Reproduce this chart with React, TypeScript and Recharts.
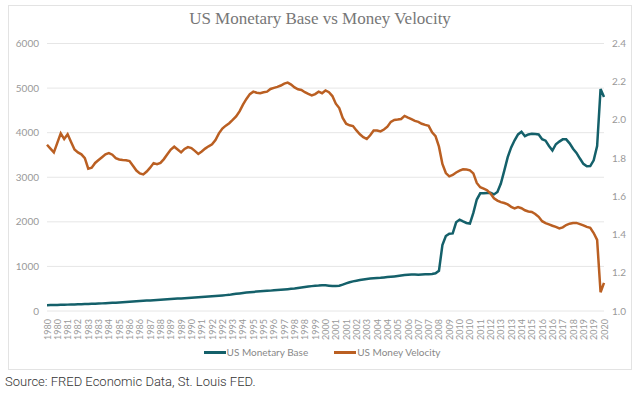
import React from 'react';
import { LineChart, Line, XAxis, YAxis, CartesianGrid, Legend } from 'recharts';

const years = [
  1980, 1981, 1982, 1983, 1984, 1985, 1986, 1987, 1988, 1989,
  1990, 1991, 1992, 1993, 1994, 1995, 1996, 1997, 1998, 1999,
  2000, 2001, 2002, 2003, 2004, 2005, 2006, 2007, 2008, 2009,
  2010, 2011, 2012, 2013, 2014, 2015, 2016, 2017, 2018, 2019, 2020,
];
const quarterNames = ['Q1', 'Q2', 'Q3', 'Q4'];
const quarters = years.flatMap((y) => quarterNames.map((q) => `${y} ${q}`)).slice(0, 163);

// US Monetary Base (billions USD), quarterly, left axis
const monetaryBase = [
  130, 132, 134, 136, 138, 140, 143, 145, 147, 150, 152, 155, 158, 161, 164, 167, 171, 175, 179, 183, 187, 191, 196, 201, 206, 212,
  218, 223, 228, 233, 238, 243, 248, 253, 258, 263, 268, 273, 278, 283, 288, 293, 298, 303, 309, 315, 320, 326, 332, 338, 344, 350, 356, 362,
  375, 385, 395, 405, 413, 420, 428, 436, 443, 448, 452, 457, 463, 470, 476, 483, 490, 498, 507, 518, 528, 538, 548, 558, 566, 572, 580,
  575, 568, 562, 560, 565, 590, 620, 645, 665, 680, 695, 708, 720, 728, 733, 738, 744, 752, 760, 768, 776, 785, 795, 805, 812, 818, 818, 815, 818, 822, 826, 830, 845,
  900, 1480, 1680, 1735, 1740, 1990, 2050, 2010, 1975, 1962, 2200, 2500, 2640, 2640, 2648, 2650, 2615, 2670, 2860, 3150, 3450, 3670, 3830, 3960, 4020, 3920, 3960, 3975, 3970, 3960, 3855, 3820, 3700, 3600, 3740, 3800, 3850, 3850, 3760, 3640, 3547, 3420, 3300, 3245, 3250, 3380, 3700, 4980, 4800,
];

// US Money Velocity (M2V), quarterly, right axis
const moneyVelocity = [
  1.87, 1.85, 1.83, 1.88, 1.93, 1.9, 1.925, 1.885, 1.845, 1.83,
  1.82, 1.8, 1.745, 1.75, 1.775, 1.79, 1.805, 1.82, 1.826, 1.818,
  1.8, 1.793, 1.79, 1.789, 1.785, 1.76, 1.735, 1.72, 1.715, 1.73,
  1.75, 1.774, 1.768, 1.775, 1.795, 1.82, 1.845, 1.86, 1.845, 1.83,
  1.848, 1.858, 1.853, 1.838, 1.822, 1.835, 1.85, 1.862, 1.872, 1.895,
  1.93, 1.955, 1.97, 1.983, 2.0, 2.018, 2.045, 2.08, 2.11, 2.135,
  2.148, 2.142, 2.14, 2.145, 2.148, 2.162, 2.168, 2.173, 2.18, 2.19,
  2.195, 2.185, 2.17, 2.16, 2.157, 2.145, 2.136, 2.128, 2.135, 2.148,
  2.14, 2.154, 2.145, 2.125, 2.085, 2.062, 2.01, 1.98, 1.972, 1.968,
  1.945, 1.925, 1.91, 1.9, 1.92, 1.945, 1.945, 1.94, 1.95, 1.965,
  1.99, 2.0, 2.002, 2.005, 2.021, 2.012, 2.004, 1.995, 1.99, 1.98,
  1.974, 1.969, 1.935, 1.915, 1.86, 1.77, 1.722, 1.705, 1.712, 1.725,
  1.735, 1.742, 1.74, 1.736, 1.72, 1.67, 1.648, 1.641, 1.632, 1.615,
  1.59, 1.578, 1.57, 1.565, 1.558, 1.545, 1.537, 1.544, 1.538, 1.527,
  1.521, 1.518, 1.508, 1.493, 1.47, 1.46, 1.453, 1.446, 1.44, 1.432,
  1.438, 1.45, 1.457, 1.46, 1.461, 1.455, 1.448, 1.44, 1.435, 1.408,
  1.372, 1.098, 1.147,
];

const leftTicks = [0, 1000, 2000, 3000, 4000, 5000, 6000];
const rightTicks = [1.0, 1.2, 1.4, 1.6, 1.8, 2.0, 2.2, 2.4];

const data = quarters.map((q, i) => ({
  quarter: q,
  base: monetaryBase[i],
  velocity: moneyVelocity[i],
}));

const TEAL = '#14606a';
const ORANGE = '#ba5f22';
const TICK_FONT = 'Lato, "Open Sans", sans-serif';

const XTick = (props: any) => {
  const { x, y, payload } = props;
  const label = String(payload.value).slice(0, 4);
  return (
    <text
      x={x}
      y={y}
      transform={`rotate(-90 ${x} ${y})`}
      textAnchor="end"
      dominantBaseline="central"
      fontSize={9}
      fill="#999"
      fontFamily={TICK_FONT}
    >
      {label}
    </text>
  );
};

const LegendContent = (props: any) => {
  const { payload } = props;
  return (
    <div
      style={{
        display: 'flex',
        justifyContent: 'center',
        gap: 26,
        fontFamily: TICK_FONT,
        fontSize: 10,
        color: '#888',
        lineHeight: '14px',
        paddingLeft: 4,
      }}
    >
      {(payload || []).map((e: any) => (
        <span key={e.value} style={{ display: 'flex', alignItems: 'center' }}>
          <span
            style={{
              display: 'inline-block',
              width: 22,
              height: 3,
              background: e.color,
              marginRight: 1,
            }}
          />
          {e.value}
        </span>
      ))}
    </div>
  );
};

export default function App() {
  return (
    <div
      style={{
        position: 'absolute',
        left: 0,
        top: 0,
        width: 640,
        height: 395,
        background: '#fff',
        overflow: 'hidden',
      }}
    >
      <div
        style={{
          position: 'absolute',
          left: 8,
          top: 5,
          width: 622,
          height: 363,
          border: '1px solid #e3e3e3',
        }}
      />
      <div
        style={{
          position: 'absolute',
          left: 0,
          top: 9,
          width: 640,
          textAlign: 'center',
          fontFamily: '"Liberation Serif", serif',
          fontSize: 17,
          color: '#777',
        }}
      >
        US Monetary Base vs Money Velocity
      </div>
      <div style={{ position: 'absolute', left: 8, top: 30 }}>
        <LineChart
          width={624}
          height={340}
          data={data}
          margin={{ top: 13.5, right: 0, bottom: 11, left: 0 }}
        >
          <CartesianGrid yAxisId="left" vertical={false} stroke="#e6e6e6" />
          <XAxis
            dataKey="quarter"
            interval={2}
            tick={<XTick />}
            tickLine={false}
            axisLine={false}
            height={34}
          />
          <YAxis
            yAxisId="left"
            orientation="left"
            domain={[0, 6000]}
            ticks={leftTicks}
            width={39}
            tickLine={false}
            axisLine={false}
            tick={{ fontSize: 10, fill: '#999', fontFamily: TICK_FONT }}
          />
          <YAxis
            yAxisId="right"
            orientation="right"
            domain={[1.0, 2.4]}
            ticks={rightTicks}
            width={28}
            tickLine={false}
            axisLine={false}
            tickFormatter={(v: number) => v.toFixed(1)}
            tick={{ fontSize: 10, fill: '#999', fontFamily: TICK_FONT }}
          />
          <Legend verticalAlign="bottom" content={<LegendContent />} />
          <Line
            yAxisId="left"
            type="linear"
            dataKey="base"
            name="US Monetary Base"
            stroke={TEAL}
            strokeWidth={2.5}
            dot={false}
            isAnimationActive={false}
          />
          <Line
            yAxisId="right"
            type="linear"
            dataKey="velocity"
            name="US Money Velocity"
            stroke={ORANGE}
            strokeWidth={2.5}
            dot={false}
            isAnimationActive={false}
          />
        </LineChart>
      </div>
      <div
        style={{
          position: 'absolute',
          left: 5,
          top: 374,
          fontFamily: 'Roboto, sans-serif',
          fontWeight: 300,
          fontSize: 13,
          color: '#333',
          whiteSpace: 'nowrap',
        }}
      >
        Source: FRED Economic Data, St. Louis FED.
      </div>
    </div>
  );
}
